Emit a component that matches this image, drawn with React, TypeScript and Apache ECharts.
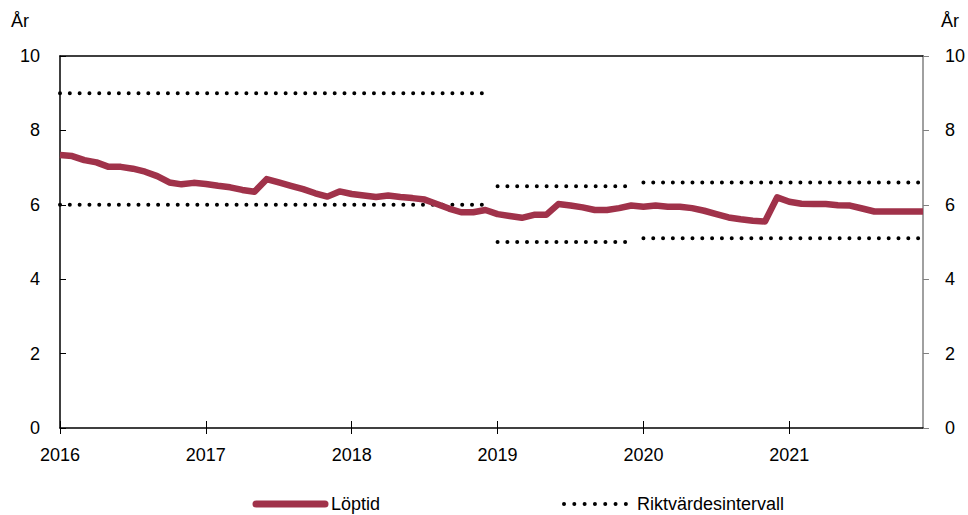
import React, { useEffect, useRef } from "react";
import * as echarts from "echarts";

const years = [2016, 2017, 2018, 2019, 2020, 2021];
const months = years.flatMap((y) =>
  Array.from({ length: 12 }, (_, i) => `${y}-${String(i + 1).padStart(2, "0")}`)
);

const loptid = [
  7.34, 7.31, 7.2, 7.14, 7.02, 7.02, 6.97, 6.89, 6.77, 6.6, 6.55, 6.59,
  6.56, 6.51, 6.47, 6.4, 6.35, 6.69, 6.6, 6.51, 6.42, 6.31, 6.22, 6.36,
  6.29, 6.25, 6.21, 6.25, 6.21, 6.18, 6.14, 6.02, 5.9, 5.8, 5.8, 5.86,
  5.75, 5.7, 5.65, 5.73, 5.73, 6.02, 5.98, 5.93, 5.86, 5.86, 5.91, 5.98,
  5.95, 5.98, 5.95, 5.95, 5.91, 5.84, 5.75, 5.66, 5.61, 5.57, 5.55, 6.2,
  6.08, 6.03, 6.02, 6.02, 5.99, 5.98, 5.9, 5.82, 5.82, 5.82, 5.82, 5.82,
];

const intervalStarts = ["2016-01", "2019-01", "2020-01"];
const intervalEnds = ["2018-12", "2019-12", "2021-12"];
const intervalUpper = [9, 6.5, 6.6];
const intervalLower = [6, 5.0, 5.1];

const legendNames = ["Löptid", "Riktvärdesintervall"];

const LINE_COLOR = "#A0324A";
const FONT = "Liberation Sans, Arial, sans-serif";

function segmentData(start: string, end: string, value: number) {
  const s = months.indexOf(start);
  const e = months.indexOf(end);
  return months.map((_, i) => (i >= s && i <= e ? value : "-"));
}

export default function App() {
  const ref = useRef<HTMLDivElement>(null);
  useEffect(() => {
    if (!ref.current) return;
    const chart = echarts.init(ref.current, null, { renderer: "svg" });
    const dotStyle = {
      color: "#000",
      width: 4,
      type: [0.01, 9.8] as number[],
      cap: "round" as const,
    };
    const intervalSeries: any[] = [];
    intervalStarts.forEach((s, k) => {
      [intervalUpper[k], intervalLower[k]].forEach((v) => {
        intervalSeries.push({
          name: legendNames[1],
          type: "line",
          data: segmentData(s, intervalEnds[k], v),
          showSymbol: false,
          symbol: "none",
          lineStyle: dotStyle,
          silent: true,
          z: 2,
        });
      });
    });
    const labelStyle = { color: "#000", fontSize: 18, fontFamily: FONT };
    const textFont = `18px ${FONT}`;
    chart.setOption({
      animation: false,
      textStyle: { fontFamily: FONT },
      grid: { left: 60, right: 44, top: 56, bottom: 87, containLabel: false },
      xAxis: [
        {
          type: "category",
          data: months,
          boundaryGap: false,
          position: "bottom",
          axisLine: { lineStyle: { color: "#000", width: 1.5 } },
          axisTick: { interval: 11, length: 6, lineStyle: { color: "#000" } },
          axisLabel: {
            interval: 11,
            margin: 18,
            ...labelStyle,
            formatter: (v: string) => v.slice(0, 4),
          },
          splitLine: { show: false },
        },
        {
          type: "category",
          data: months,
          boundaryGap: false,
          position: "bottom",
          axisLine: { show: false },
          axisTick: { interval: 11, inside: true, length: 7, lineStyle: { color: "#000" } },
          axisLabel: { show: false },
          splitLine: { show: false },
        },
        {
          type: "category",
          data: months,
          boundaryGap: false,
          position: "top",
          axisLine: { lineStyle: { color: "#000", width: 1.5 } },
          axisTick: { show: false },
          axisLabel: { show: false },
          splitLine: { show: false },
        },
      ],
      yAxis: [
        {
          type: "value",
          min: 0,
          max: 10,
          interval: 2,
          position: "left",
          axisLine: { show: true, lineStyle: { color: "#000", width: 1.5 } },
          axisTick: { show: true, inside: true, length: 6, lineStyle: { color: "#000" } },
          axisLabel: { margin: 20, ...labelStyle },
          splitLine: { show: false },
        },
        {
          type: "value",
          min: 0,
          max: 10,
          interval: 2,
          position: "right",
          axisLine: { show: true, lineStyle: { color: "#808080", width: 1.5 } },
          axisTick: { show: true, inside: false, length: 6, lineStyle: { color: "#808080" } },
          axisLabel: { margin: 22, ...labelStyle },
          splitLine: { show: false },
        },
      ],
      graphic: [
        { type: "text", left: 11, top: 12, style: { text: "År", fill: "#000", font: textFont } },
        { type: "text", left: 941, top: 12, style: { text: "År", fill: "#000", font: textFont } },
        {
          type: "line",
          shape: { x1: 256, y1: 504, x2: 325, y2: 504 },
          style: { stroke: LINE_COLOR, lineWidth: 7, lineCap: "round" },
        },
        {
          type: "text",
          x: 331,
          y: 504,
          style: { text: legendNames[0], fill: "#000", font: textFont, textVerticalAlign: "middle", verticalAlign: "middle" },
        },
        {
          type: "line",
          shape: { x1: 564, y1: 504, x2: 628, y2: 504 },
          style: { stroke: "#000", lineWidth: 4, lineCap: "round", lineDash: [0.01, 10.3] },
        },
        {
          type: "text",
          x: 637,
          y: 504,
          style: { text: legendNames[1], fill: "#000", font: textFont, textVerticalAlign: "middle", verticalAlign: "middle" },
        },
      ],
      series: [
        {
          name: legendNames[0],
          type: "line",
          data: loptid,
          showSymbol: false,
          symbol: "none",
          lineStyle: { color: LINE_COLOR, width: 6.5, join: "round" },
          itemStyle: { color: LINE_COLOR },
          z: 3,
        },
        ...intervalSeries,
      ],
    });
    return () => chart.dispose();
  }, []);
  return (
    <div
      ref={ref}
      style={{ width: 968, height: 515, position: "absolute", left: 0, top: 0, background: "#fff" }}
    />
  );
}
